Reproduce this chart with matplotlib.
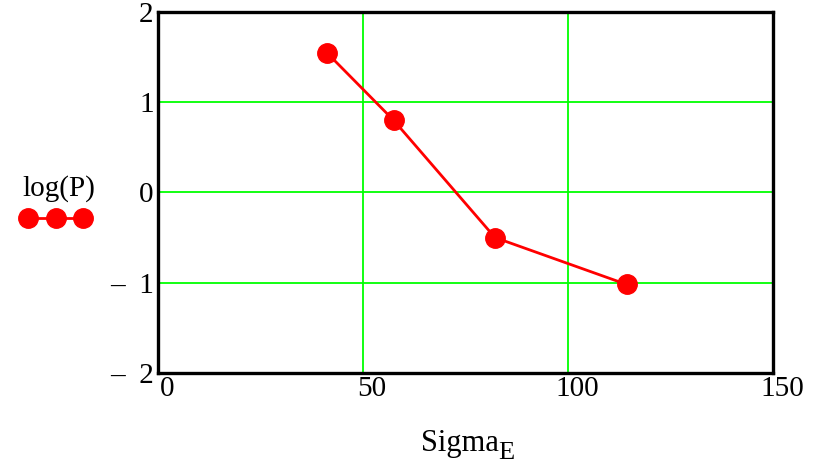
import matplotlib
matplotlib.use("Agg")
import matplotlib.pyplot as plt
from matplotlib.ticker import FixedLocator, FixedFormatter
import matplotlib.transforms as mtransforms

plt.rcParams['font.family'] = ['Liberation Serif', 'DejaVu Serif']

sigma_e = [41.2, 57.5, 82.2, 114.3]
log_p = [1.55, 0.80, -0.50, -1.02]

x_ticks = [0, 50, 100, 150]
x_tick_labels = ['0', '50', '100', '150']
y_ticks = [-2, -1, 0, 1, 2]
y_tick_labels = ['\u2013  2', '\u2013  1', '0', '1', '2']

fig = plt.figure(figsize=(8.18, 4.66), dpi=100)
ax = fig.add_axes([0.193, 0.200, 0.752, 0.774])

line, = ax.plot(sigma_e, log_p, color='#ff0000', lw=2.0, marker='o',
                markersize=14, markerfacecolor='#ff0000', markeredgecolor='#ff0000',
                zorder=3, clip_on=False)

ax.set_xlim(0, 150)
ax.set_ylim(-2, 2)
ax.xaxis.set_major_locator(FixedLocator(x_ticks))
ax.xaxis.set_major_formatter(FixedFormatter(x_tick_labels))
ax.yaxis.set_major_locator(FixedLocator(y_ticks))
ax.yaxis.set_major_formatter(FixedFormatter(y_tick_labels))
ax.grid(True, color='#00ff00', lw=1.3)
ax.tick_params(length=0, labelsize=21, pad=3)
ax.tick_params(axis='x', pad=2)
for lab in ax.get_xticklabels():
    lab.set_transform(lab.get_transform() + mtransforms.ScaledTranslation(9/100, 0, fig.dpi_scale_trans))
for s in ax.spines.values():
    s.set_linewidth(2.4)
    s.set_color('black')

fig.text(421/818, 1 - 451/466, 'Sigma', fontsize=22, ha='left', va='baseline')
fig.text(498/818, 1 - 459/466, 'E', fontsize=19, ha='left', va='baseline')

leg = ax.legend([line], [''], title='log(P)', numpoints=3, frameon=False,
                handlelength=3.45, handletextpad=0, borderpad=0,
                loc='upper left', bbox_to_anchor=(0.015, 0.646),
                bbox_transform=fig.transFigure, title_fontsize=21,
                fontsize=14, markerscale=1.0)
leg._legend_box.align = 'left'
for h in leg.legend_handles:
    h.set_linewidth(2.0)

fig.savefig('out.png', dpi=100)
